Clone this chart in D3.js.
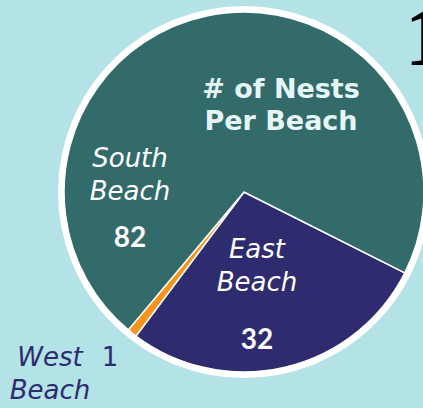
<!DOCTYPE html>
<html>
<head>
<meta charset="utf-8">
<script src="https://cdn.jsdelivr.net/npm/d3@7"></script>
<style>
  html, body { margin: 0; padding: 0; background: #b3e2e7; overflow: hidden; }
  svg { display: block; }
</style>
</head>
<body>
<svg id="chart"></svg>
<script>
// data
var beaches = ["East Beach", "West Beach", "South Beach"];
var nests = [32, 1, 82];
var sliceColors = ["#2e2c6e", "#f7941d", "#336b6b"];
var titleLines = ["# of Nests", "Per Beach"];

var W = 423, H = 408;
var cx = 244, cy = 192, r = 180;

var svg = d3.select("#chart").attr("width", W).attr("height", H);
svg.append("rect").attr("width", W).attr("height", H).attr("fill", "#b3e2e7");

var color = d3.scaleOrdinal().domain(beaches).range(sliceColors);

// pie starts at the East/South edge (about 116.7deg clockwise from top)
var a0 = 116.7 * Math.PI / 180;
var pie = d3.pie().sort(null).value(d => d.v).startAngle(a0).endAngle(a0 + 2 * Math.PI);
var arc = d3.arc().innerRadius(0).outerRadius(r);

var rows = beaches.map((b, i) => ({name: b, v: nests[i]}));
var arcs = pie(rows);

var g = svg.append("g").attr("transform", `translate(${cx},${cy})`);

g.selectAll("path")
  .data(arcs)
  .enter()
  .append("path")
  .attr("d", arc)
  .attr("fill", d => color(d.data.name))
  .attr("stroke", "white")
  .attr("stroke-width", 1.5)
  .attr("stroke-linejoin", "round");

// white rim
g.append("circle").attr("r", r + 3).attr("fill", "none").attr("stroke", "white").attr("stroke-width", 6);

// title inside the big slice
var title = svg.append("text")
  .attr("text-anchor", "middle")
  .attr("fill", "#e4f6f6")
  .style("font-family", "'DejaVu Sans', sans-serif")
  .style("font-weight", "bold")
  .style("font-size", "27px");
titleLines.forEach((t, i) => {
  title.append("tspan").attr("x", 281).attr("y", 98 + i * 32).text(t);
});

// slice labels
var labelPos = {
  "South Beach": {x: 130, y: 167, vy: 247, color: "white", inside: true},
  "East Beach": {x: 257, y: 258, vy: 349, color: "white", inside: true},
  "West Beach": {x: 50, y: 366, vy: 366, color: "#2e2c6e", inside: false}
};
var scriptFont = "'DejaVu Sans', sans-serif";

rows.forEach(function(d) {
  var p = labelPos[d.name];
  var words = d.name.split(" ");
  var t = svg.append("text")
    .attr("text-anchor", "middle")
    .attr("fill", p.color)
    .style("font-family", scriptFont)
    .style("font-style", "oblique")
    .style("font-size", "26px");
  t.append("tspan").attr("x", p.x).attr("y", p.y).text(words[0]);
  t.append("tspan").attr("x", p.x).attr("y", p.y + 33).text(words[1]);
  if (p.inside) {
    svg.append("text")
      .attr("x", p.x).attr("y", p.vy)
      .attr("text-anchor", "middle")
      .attr("fill", "white")
      .style("font-family", "Lato, sans-serif")
      .style("font-weight", "bold")
      .style("font-size", "28px")
      .text(d.v);
  } else {
    svg.append("text")
      .attr("x", 110).attr("y", p.vy)
      .attr("text-anchor", "middle")
      .attr("fill", p.color)
      .style("font-family", scriptFont)
      .style("font-size", "26px")
      .text(d.v);
  }
});

// partly visible heading at top right
svg.append("text")
  .attr("x", 405).attr("y", 65)
  .attr("fill", "black")
  .style("font-family", "'Liberation Serif', serif")
  .style("font-weight", "bold")
  .style("font-size", "84px")
  .text("1");
</script>
</body>
</html>
